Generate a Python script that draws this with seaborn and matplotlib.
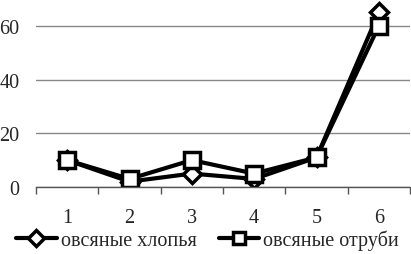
import matplotlib
matplotlib.use("Agg")
import matplotlib.pyplot as plt
import seaborn as sns
import pandas as pd

categories = [1, 2, 3, 4, 5, 6]
flakes = [10, 2, 5, 3, 11, 65]
bran = [10, 3, 10, 5, 11, 60]
series_names = ["овсяные хлопья", "овсяные отруби"]
yticks = [0, 20, 40, 60]

sns.set_theme(style="white")
plt.rcParams['font.family'] = ['Liberation Serif', 'DejaVu Serif']

fig = plt.figure(figsize=(4.11, 2.55), dpi=100)
ax = fig.add_axes([36/411, 1 - 188/255, 374/411, 188/255])

df = pd.DataFrame({"x": categories * 2,
                   "y": flakes + bran,
                   "s": [series_names[0]] * 6 + [series_names[1]] * 6})

sns.lineplot(data=df[df.s == series_names[0]], x="x", y="y", ax=ax, color="black",
             linewidth=3, marker="D", markersize=9, markerfacecolor="white",
             markeredgecolor="black", markeredgewidth=2.5, label=series_names[0])
sns.lineplot(data=df[df.s == series_names[1]], x="x", y="y", ax=ax, color="black",
             linewidth=3, marker="s", markersize=11, markerfacecolor="white",
             markeredgecolor="black", markeredgewidth=2.5, label=series_names[1])

ax.set_xlim(0.5, 6.5)
ax.set_ylim(0, 70)
ax.set_yticks(yticks)
ax.set_yticklabels([str(v) for v in yticks], fontsize=14.5)
ax.yaxis.grid(True, color="#888888", linewidth=1)
ax.set_axisbelow(True)
ax.set_xticks([1.0, 2.0, 3.0, 4.0, 5.0, 6.0])
ax.set_xticklabels([str(c) for c in categories], fontsize=14.5)
ax.tick_params(axis="x", length=0, pad=15)
ax.tick_params(axis="y", length=0, pad=12)
# boundary tick marks
ax.set_xticks([0.5 + i for i in range(7)], minor=True)
ax.tick_params(axis="x", which="minor", length=5, width=1, color="#555555", direction="out", bottom=True)
ax.set_xlabel("")
ax.set_ylabel("")
for side in ["top", "right", "left"]:
    ax.spines[side].set_visible(False)
ax.spines["bottom"].set_color("#555555")
ax.spines["bottom"].set_linewidth(1)

leg = ax.legend(loc="center", bbox_to_anchor=(0.505, 0.055), bbox_transform=fig.transFigure,
                ncol=2, frameon=False, fontsize=14.5, handlelength=2.0, handletextpad=0.2,
                columnspacing=1.1, borderpad=0, markerscale=0.85)

fig.savefig("out.png", dpi=100)
